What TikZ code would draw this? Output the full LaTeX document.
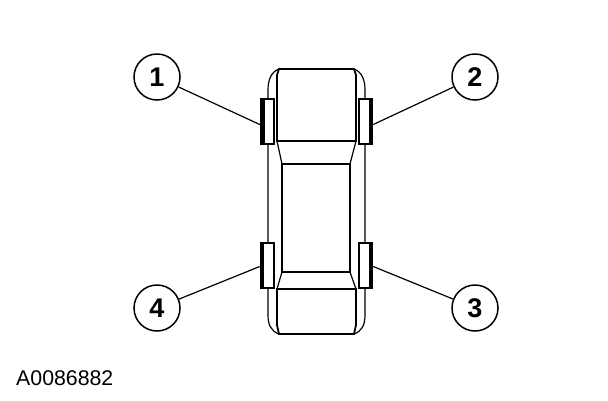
\documentclass[tikz,border=0pt]{standalone}
\usepackage{fontspec}
\setmainfont{Liberation Sans}
\begin{document}
\begin{tikzpicture}[x=1pt,y=-1pt,line join=miter,
  callout/.style={circle,draw=black,line width=1.5pt,fill=white,minimum size=46pt,inner sep=0pt,font=\fontsize{27}{27}\selectfont\bfseries},
  wheelbox/.style={rectangle,draw=black,line width=2pt,fill=white,inner sep=0pt,minimum width=13.5pt,minimum height=45.5pt},
  thickline/.style={line width=1.8pt},
  thinline/.style={line width=1.2pt},
  leader/.style={line width=1.2pt}]
\useasboundingbox (0,0) rectangle (608,400);
\fill[white] (0,0) rectangle (608,400);
% body outline
\draw[thinline] (279,69) .. controls (271,72) and (268,80) .. (268,90) -- (268,315) .. controls (268,325) and (271,331) .. (279,334);
\draw[thinline] (354,69) .. controls (362,72) and (365,80) .. (365,90) -- (365,315) .. controls (365,325) and (362,331) .. (354,334);
% hood
\draw[thickline] (277,75) -- (279,69) -- (354,69) -- (356,75) -- (356,141) -- (277,141) -- cycle;
\draw[line width=2.6pt] (277,141) -- (356,141);
% cabin
\draw[thinline] (277,141) -- (282,164);
\draw[thinline] (356,141) -- (350,164);
\draw[thickline] (282,272) -- (282,164) -- (350,164) -- (350,272) -- cycle;
% trunk
\draw[thickline] (277,325) -- (279,334) -- (354,334) -- (356,325) -- (356,289) -- (277,289) -- cycle;
\draw[thinline] (277,289) -- (282,272);
\draw[thinline] (356,289) -- (350,272);
% wheels
\node[wheelbox] (w1) at (267.5,121.5) {};
\node[wheelbox] (w2) at (365.5,121.5) {};
\node[wheelbox] (w3) at (365.5,265.5) {};
\node[wheelbox] (w4) at (267.5,265.5) {};
\fill (w1.north west) rectangle ([xshift=5pt]w1.south west);
\fill ([xshift=-4.5pt]w2.north east) rectangle (w2.south east);
\fill (w4.north west) rectangle ([xshift=4.5pt]w4.south west);
\fill ([xshift=-4.5pt]w3.north east) rectangle (w3.south east);
% callouts
\node[callout] (c1) at (157,77) {1};
\node[callout] (c2) at (475,77) {2};
\node[callout] (c3) at (475,308) {3};
\node[callout] (c4) at (157,308) {4};
\draw[leader] (c1) -- ([yshift=-3pt]w1.west);
\draw[leader] (c2) -- ([yshift=-3pt]w2.east);
\draw[leader] (c3) -- ([yshift=-1pt]w3.east);
\draw[leader] (c4) -- ([yshift=-1pt]w4.west);
\node[anchor=west,inner sep=0pt,font=\fontsize{21.3}{21.3}\selectfont] (lbl) at (16,378) {A0086882};
\end{tikzpicture}
\end{document}
